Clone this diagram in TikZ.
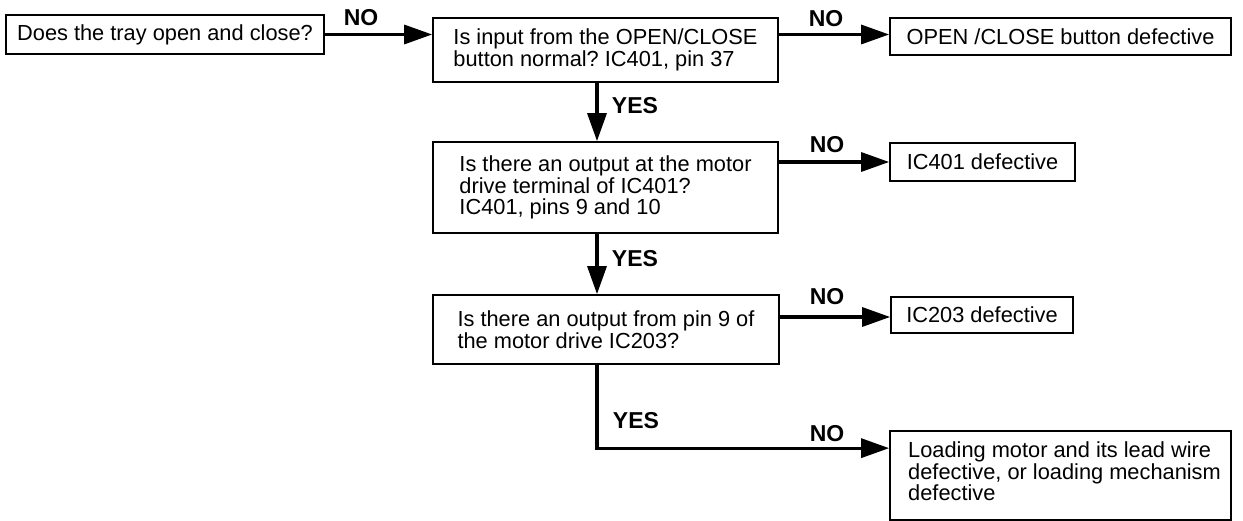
\documentclass[tikz,border=0pt]{standalone}
\usepackage{fontspec}
\setmainfont{Liberation Sans}
\usetikzlibrary{arrows.meta}
\frenchspacing
\newcommand\boxfnt{\fontsize{21.8}{21.5}\selectfont\frenchspacing}
\newcommand\lblfnt{\fontsize{23}{23}\selectfont\bfseries}
\begin{document}
\begin{tikzpicture}[x=1pt,y=-1pt,
  box/.style={draw, line width=1.7pt, inner sep=0pt, align=left, font=\boxfnt},
  txt/.style={inner sep=0pt, align=left, font=\boxfnt},
  lbl/.style={inner sep=0pt, font=\lblfnt},
  arr/.style={line width=3.2pt, -{Triangle[length=28pt,width=19pt]}},
  ln/.style={line width=3.2pt}]
\fill[white] (0,0) rectangle (1243,521);
\useasboundingbox (0,0) rectangle (1243,521);

\node[box, minimum width=318pt, minimum height=39pt] (a) at (165,34.5) {Does the tray open and close?};
\node[box, minimum width=345pt, minimum height=64pt] (b) at (605.5,50) {Is input from the OPEN/CLOSE\\button normal? IC401, pin 37};
\node[box, minimum width=341pt, minimum height=37pt] (c) at (1060.5,36.5) {OPEN /CLOSE button defective};
\node[box, minimum width=345pt, minimum height=91pt] (d) at (605.5,187.5) {Is there an output at the motor\\drive terminal of IC401?\\IC401, pins 9 and 10};
\node[box, minimum width=185pt, minimum height=38pt] (e) at (982.5,162) {IC401 defective};
\node[box, minimum width=346pt, minimum height=69pt] (f) at (606,329.5) {Is there an output from pin 9 of\\the motor drive IC203?};
\node[box, minimum width=182pt, minimum height=36pt] (h) at (982,315) {IC203 defective};
\node[box, minimum width=341pt, minimum height=89pt] (g) at (1060.5,475.5) {};
\node[txt, anchor=north west] (gt) at (908,441.6) {Loading motor and its lead wire\\defective, or loading mechanism\\defective};

\draw[arr] (a.east) -- (a.east -| b.west);
\draw[arr] (b.east |- a.east) -- (c.west |- a.east);
\draw[arr] ([xshift=-8.5pt]b.south) -- ([xshift=-8.5pt]d.north);
\draw[arr] (d.east |- e.west) -- (e.west);
\draw[arr] ([xshift=-8.5pt]d.south) -- ([xshift=-9pt]f.north);
\draw[arr] ([yshift=-2pt]f.east |- h.west) -- ([yshift=-2pt]h.west);
\draw[arr] ([xshift=-9pt]f.south) |- ([yshift=-18pt]g.north west);

\node[lbl] (no1) at (361,18) {NO};
\node[lbl] (no2) at (826,19) {NO};
\node[lbl] (yes1) at (635,106) {YES};
\node[lbl] (no3) at (827,145) {NO};
\node[lbl] (yes2) at (635,259) {YES};
\node[lbl] (no4) at (827,297) {NO};
\node[lbl] (yes3) at (636,421) {YES};
\node[lbl] (no5) at (827,434) {NO};
\end{tikzpicture}
\end{document}
